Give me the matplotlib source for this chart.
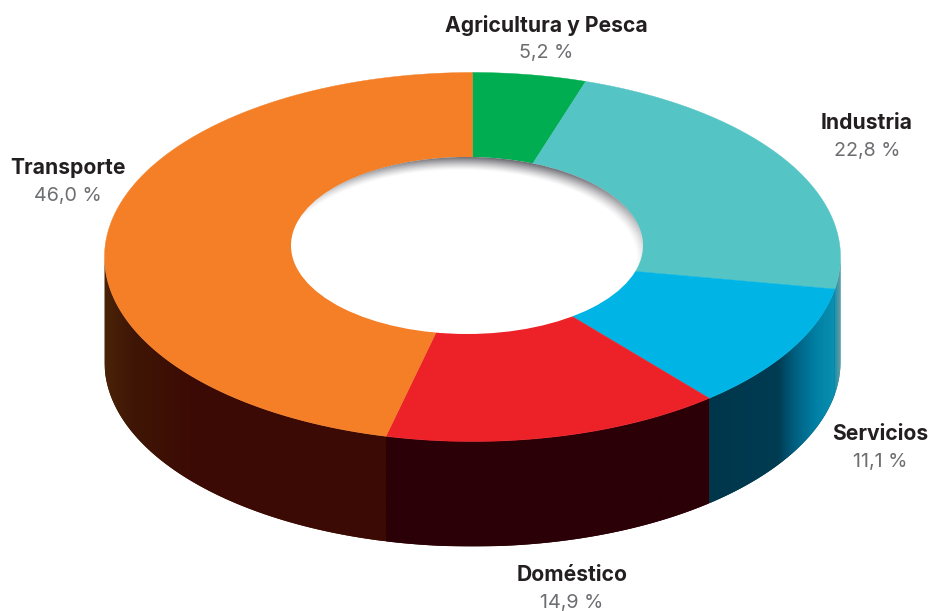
import matplotlib
matplotlib.use("Agg")
import matplotlib.pyplot as plt
from matplotlib.colors import LinearSegmentedColormap
from matplotlib.patches import Ellipse, Polygon
import numpy as np

plt.rcParams['font.family'] = ['Inter', 'DejaVu Sans']

# clockwise from 12 o'clock, same order as the picture
categories = ["Agricultura y Pesca", "Industria", "Servicios", "Doméstico", "Transporte"]
values = [5.2, 22.8, 11.1, 14.9, 46.0]
colors = ["#00ad50", "#55c4c4", "#00b5e5", "#ed2228", "#f47f26"]

# side wall colours, left to right on screen
side_colors = [
    [(0, "#00ad50"), (1, "#00ad50")],
    [(0, "#1f8fa8"), (1, "#6a9ea4")],
    [(0, "#00364b"), (0.55, "#003c53"), (0.68, "#005f80"), (0.85, "#0080a5"), (1, "#0a90b0")],
    [(0, "#2b0007"), (1, "#2b0007")],
    [(0, "#4a2208"), (0.1, "#3f1605"), (0.3, "#3c0b04"), (1, "#3d0a04")],
]

label_x = [546, 867, 880, 572, 68]
label_y = [25, 123, 434, 575, 168]

# ring geometry in pixels
cx, cy = 472.5, 257
rx, ry = 368, 184.5
depth = 105
hole_cx, hole_cy = 467, 245.5
hole_rx, hole_ry = 176, 88.5


def ring_point(angle, dy=0):
    """Point on the outer ellipse, angle in degrees clockwise from the top."""
    t = np.radians(angle)
    return cx + rx * np.sin(t), cy + dy - ry * np.cos(t)


fig = plt.figure(figsize=(9.3, 6.11), dpi=100)
ax = fig.add_axes([0, 0, 1, 1])

edges = 360 * np.cumsum([0] + values) / sum(values)
# the artwork's inner slice borders sit a little behind the exact shares
edges[1:-1] -= 0.8

# side walls, only the part facing the viewer
for i in range(len(values)):
    a0 = max(edges[i], 90)
    a1 = min(edges[i + 1], 270)
    if a1 <= a0:
        continue
    ang = np.linspace(a0, a1, 120)
    top_x, top_y = ring_point(ang)
    bot_x, bot_y = ring_point(ang, depth)
    pts = np.vstack([np.column_stack([top_x, top_y]), np.column_stack([bot_x, bot_y])[::-1]])
    poly = Polygon(pts, closed=True, facecolor=side_colors[i][0][1], edgecolor='none', zorder=1)
    ax.add_patch(poly)
    cmap = LinearSegmentedColormap.from_list("side", side_colors[i])
    grad = np.linspace(0, 1, 256).reshape(1, -1)
    im = ax.imshow(grad, cmap=cmap, aspect='auto', interpolation='bilinear', zorder=1.5,
                   extent=[pts[:, 0].min(), pts[:, 0].max(), pts[:, 1].max(), pts[:, 1].min()])
    im.set_clip_path(poly)

# top face, sectors all meet at the ellipse centre
for i in range(len(values)):
    ang = np.linspace(edges[i], edges[i + 1], 200)
    xs, ys = ring_point(ang)
    pts = np.vstack([[cx, cy], np.column_stack([xs, ys])])
    ax.add_patch(Polygon(pts, closed=True, facecolor=colors[i], edgecolor=colors[i],
                         linewidth=0.3, zorder=2))

# hole with the soft shadow along its top right edge
hole = Ellipse((hole_cx, hole_cy), 2 * hole_rx, 2 * hole_ry, facecolor='white', edgecolor='none', zorder=3)
ax.add_patch(hole)
gx, gy = np.meshgrid(np.arange(285, 650, 0.5), np.arange(150, 340, 0.5))
r = np.sqrt(((gx - hole_cx + 8) / hole_rx) ** 2 + ((gy - hole_cy - 13) / hole_ry) ** 2)
shade = np.clip((r - 1.0) / 0.16, 0, 1) ** 1.3
rgba = np.zeros(gx.shape + (4,))
rgba[..., :3] = [0.38, 0.38, 0.41]
rgba[..., 3] = shade
im = ax.imshow(rgba, extent=[285, 650, 340, 150], aspect='auto', interpolation='bilinear', zorder=4)
im.set_clip_path(hole)

for name, val, x, y in zip(categories, values, label_x, label_y):
    ax.text(x, y, name, ha='center', va='center', fontsize=15.2, fontweight='bold', color='#231f20')
    ax.text(x, y + 28, f"{val:.1f} %".replace('.', ','), ha='center', va='center',
            fontsize=14.2, color='#6d6e71')

ax.set_xlim(0, 930)
ax.set_ylim(611, 0)
ax.axis('off')
fig.savefig("out.png", dpi=100, facecolor='white')
